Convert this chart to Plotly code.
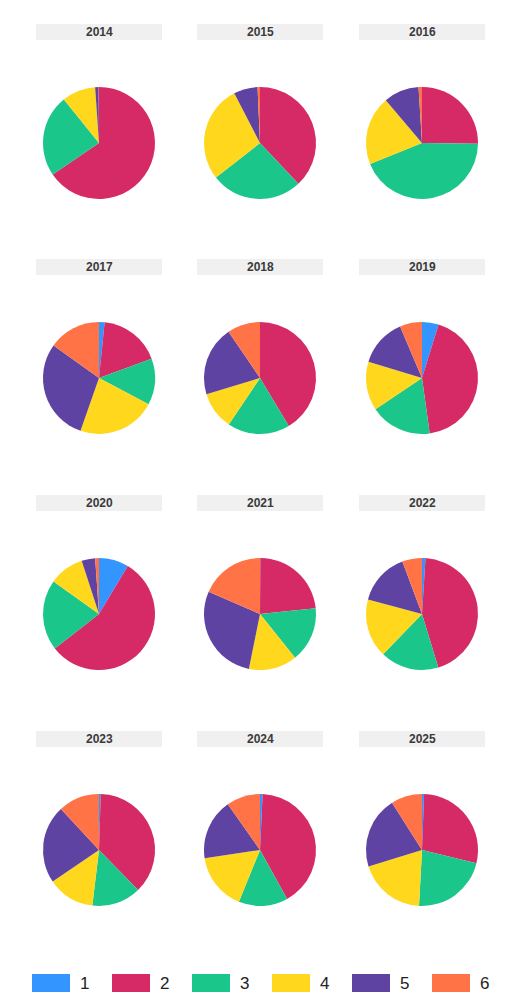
import plotly.graph_objects as go

# page body has an 8px margin, so the figure sits at (8, 8)
OFF = 8
W, H = 524 - 2 * OFF, 1006 - 2 * OFF

categories = ["1", "2", "3", "4", "5", "6"]
colors = ["#3395FF", "#D62A66", "#1BC68B", "#FFD71C", "#5F43A3", "#FF7347"]

years = [2014, 2015, 2016, 2017, 2018, 2019, 2020, 2021, 2022, 2023, 2024, 2025]

# share per category (1..6) for each year, in percent
v2014 = [0.0, 65.5, 23.7, 9.7, 1.0, 0.1]
v2015 = [0.0, 38.0, 26.4, 28.0, 6.9, 0.7]
v2016 = [0.0, 25.2, 43.7, 19.9, 10.2, 1.0]
v2017 = [1.6, 17.8, 13.3, 22.6, 29.5, 15.1]
v2018 = [0.0, 41.4, 18.0, 10.9, 20.2, 9.5]
v2019 = [4.8, 43.0, 17.8, 14.1, 13.9, 6.4]
v2020 = [8.6, 55.8, 20.4, 10.1, 3.9, 1.1]
v2021 = [0.1, 23.3, 15.9, 14.0, 28.4, 18.5]
v2022 = [1.0, 44.3, 16.9, 17.0, 15.1, 5.7]
v2023 = [0.5, 37.2, 14.2, 13.6, 22.6, 11.9]
v2024 = [0.75, 41.2, 14.2, 16.5, 17.6, 9.75]
v2025 = [0.6, 28.2, 22.1, 19.4, 20.8, 9.0]

values = [v2014, v2015, v2016, v2017, v2018, v2019,
          v2020, v2021, v2022, v2023, v2024, v2025]

col_cx = [99, 260, 422]
row_cy = [143, 378, 614, 850]
radius = 56
bar_half_w = 63


def px(x):
    return (x - OFF) / W


def py(y):
    return 1 - (y - OFF) / H


fig = go.Figure()
shapes = []
annotations = []

for i, (year, vals) in enumerate(zip(years, values)):
    cx = col_cx[i % 3]
    cy = row_cy[i // 3]
    fig.add_trace(
        go.Pie(
            labels=categories,
            values=vals,
            marker=dict(colors=colors, line=dict(width=0)),
            sort=False,
            direction="clockwise",
            rotation=0,
            textinfo="none",
            showlegend=False,
            domain=dict(
                x=[px(cx - radius), px(cx + radius)],
                y=[py(cy + radius), py(cy - radius)],
            ),
            name=str(year),
        )
    )
    shapes.append(
        dict(
            type="rect", xref="paper", yref="paper",
            x0=px(cx - bar_half_w), x1=px(cx + bar_half_w),
            y0=py(cy - 103), y1=py(cy - 119),
            fillcolor="#F0F0F0", line=dict(width=0), layer="below",
        )
    )
    annotations.append(
        dict(
            text=f"<b>{year}</b>", xref="paper", yref="paper",
            x=px(cx), y=py(cy - 111),
            showarrow=False, xanchor="center", yanchor="middle",
            font=dict(size=12, color="#3a3a3a"),
        )
    )

# legend drawn as swatches along the bottom
for j, (cat, colr) in enumerate(zip(categories, colors)):
    x0 = 32 + 80 * j
    shapes.append(
        dict(
            type="rect", xref="paper", yref="paper",
            x0=px(x0), x1=px(x0 + 38),
            y0=py(992), y1=py(974),
            fillcolor=colr, line=dict(width=0),
        )
    )
    annotations.append(
        dict(
            text=cat, xref="paper", yref="paper",
            x=px(x0 + 46), y=py(983),
            showarrow=False, xanchor="left", yanchor="middle",
            font=dict(size=17, color="#222222"),
        )
    )

fig.update_layout(
    width=W,
    height=H,
    margin=dict(l=0, r=0, t=0, b=0),
    paper_bgcolor="white",
    font=dict(family="Liberation Sans, Arial, sans-serif"),
    shapes=shapes,
    annotations=annotations,
)

fig.write_html("out.html")
